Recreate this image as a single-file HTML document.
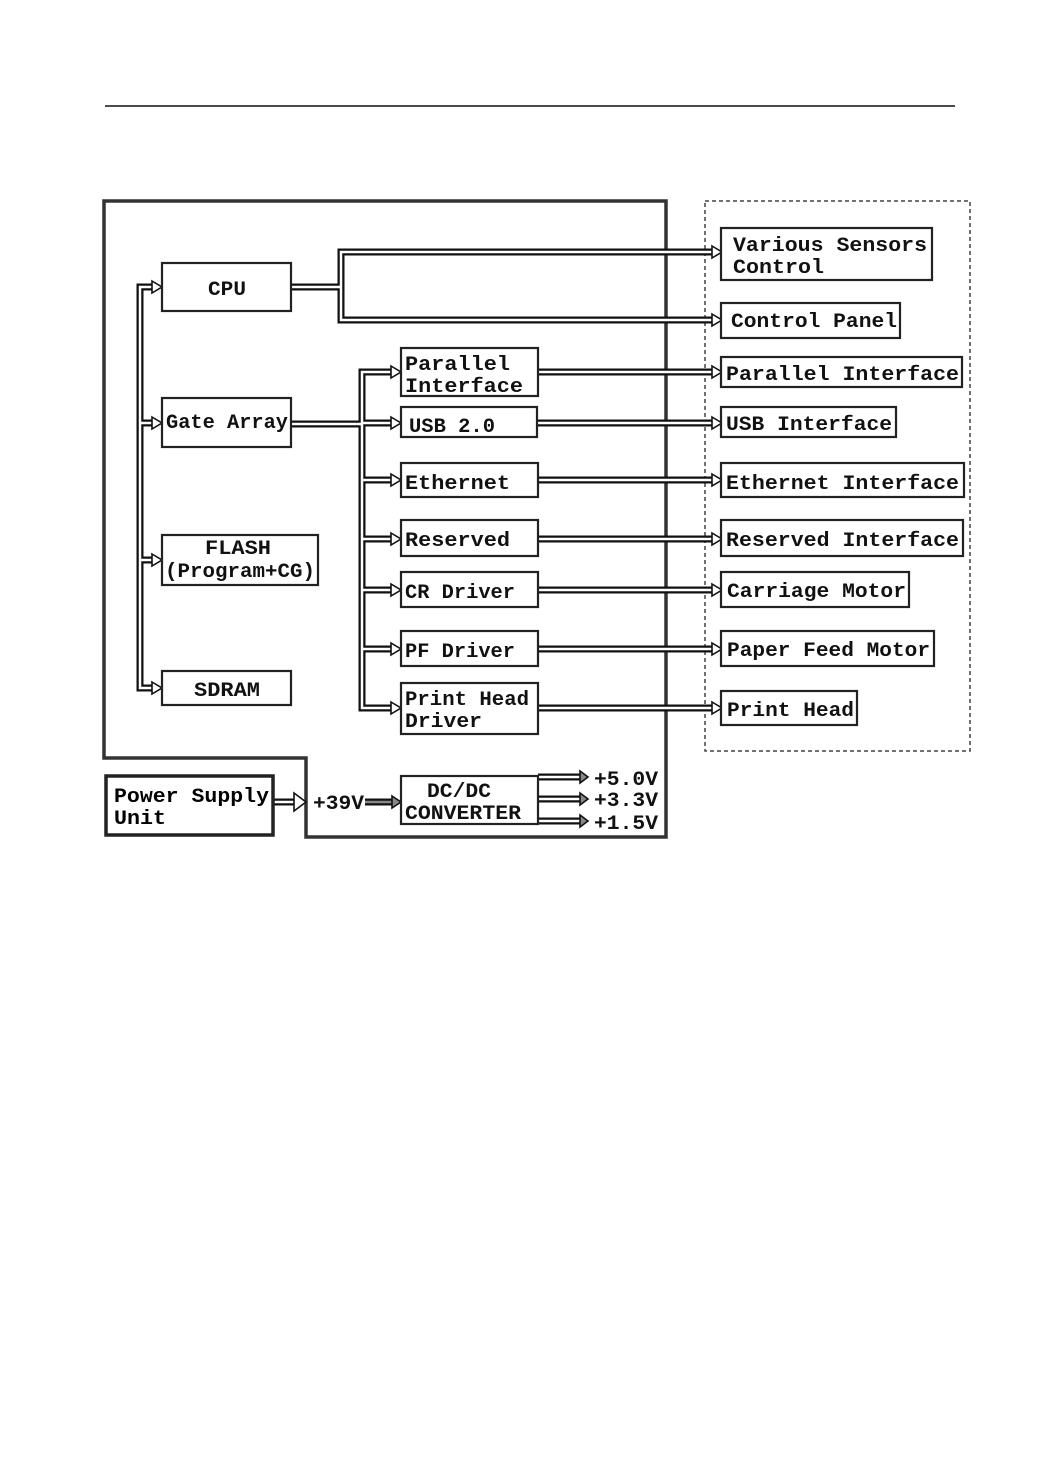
<!DOCTYPE html>
<html><head><meta charset="utf-8"><style>
html,body{margin:0;padding:0;background:#fff;}
svg{display:block;}
text{font-family:"Liberation Mono",monospace;font-size:20px;fill:#111;font-weight:bold;}
</style></head><body>
<svg width="1042" height="1472" viewBox="0 0 1042 1472" xmlns="http://www.w3.org/2000/svg">
<line x1="105" y1="106" x2="955" y2="106" stroke="#111" stroke-width="1.5"/>
<!-- main outline -->
<path d="M104,201 H666 V837 H306 V758 H104 Z" fill="none" stroke="#333" stroke-width="3.5"/>
<rect x="705" y="201" width="265" height="550" fill="none" stroke="#444" stroke-width="1.5" stroke-dasharray="4,3"/>
<!-- double lines -->
<g fill="none" stroke-linejoin="miter">
<g id="conn" stroke="#111" stroke-width="7">
<path d="M152,287 H140 V688 H152 M140,423 H152 M140,560 H152"/>
<path d="M291,287 H341 V252 H712 M341,287 V320 H712"/>
<path d="M291,424 H362 M391,372 H362 V708 H391 M362,423 H391 M362,480 H391 M362,539 H391 M362,590 H391 M362,649 H391"/>
<path d="M538,372 H712 M538,423 H712 M538,480 H712 M538,539 H712 M538,590 H712 M538,649 H712 M538,708 H712"/>
<path d="M273,802 H296 M365,802 H392 M538,777 H580 M538,799 H580 M538,821 H580"/>
</g>
<g stroke="#fff" stroke-width="2.5">
<path d="M152,287 H140 V688 H152 M140,423 H152 M140,560 H152"/>
<path d="M291,287 H341 V252 H712 M341,287 V320 H712"/>
<path d="M291,424 H362 M391,372 H362 V708 H391 M362,423 H391 M362,480 H391 M362,539 H391 M362,590 H391 M362,649 H391"/>
<path d="M538,372 H712 M538,423 H712 M538,480 H712 M538,539 H712 M538,590 H712 M538,649 H712 M538,708 H712"/>
<path d="M273,802 H296 M538,777 H580 M538,799 H580 M538,821 H580"/>
</g>
<path d="M365,802 H392" stroke="#888" stroke-width="2.5"/>
</g>
<!-- arrowheads -->
<g fill="#fff" stroke="#111" stroke-width="1.6">
<polygon points="152,281 162,287 152,293"/><polygon points="152,417 162,423 152,429"/><polygon points="152,554 162,560 152,566"/><polygon points="152,682 162,688 152,694"/>
<polygon points="391,366 401,372 391,378"/><polygon points="391,417 401,423 391,429"/><polygon points="391,474 401,480 391,486"/><polygon points="391,533 401,539 391,545"/><polygon points="391,584 401,590 391,596"/><polygon points="391,643 401,649 391,655"/><polygon points="391,702 401,708 391,714"/>
<polygon points="712,246 722,252 712,258"/><polygon points="712,314 722,320 712,326"/>
<polygon points="712,366 722,372 712,378"/><polygon points="712,417 722,423 712,429"/><polygon points="712,474 722,480 712,486"/><polygon points="712,533 722,539 712,545"/><polygon points="712,584 722,590 712,596"/><polygon points="712,643 722,649 712,655"/><polygon points="712,702 722,708 712,714"/>
<polygon points="294,793 306,802 294,811"/><polygon points="392,796 401,802 392,808" fill="#888"/>
<polygon points="580,771 588,777 580,783" fill="#888"/><polygon points="580,793 588,799 580,805" fill="#888"/><polygon points="580,815 588,821 580,827" fill="#888"/>
</g>
<!-- boxes -->
<g fill="#fff" stroke="#222" stroke-width="2.2">
<rect x="162" y="263" width="129" height="48"/>
<rect x="162" y="398" width="129" height="49"/>
<rect x="162" y="535" width="156" height="50"/>
<rect x="162" y="671" width="129" height="34"/>
<rect x="401" y="348" width="137" height="48"/>
<rect x="401" y="407" width="136" height="30"/>
<rect x="401" y="463" width="137" height="34"/>
<rect x="401" y="520" width="137" height="36"/>
<rect x="401" y="572" width="137" height="35"/>
<rect x="401" y="631" width="137" height="35"/>
<rect x="401" y="683" width="137" height="51"/>
<rect x="401" y="776" width="137" height="48"/>
<rect x="721" y="228" width="211" height="52"/>
<rect x="721" y="303" width="179" height="35"/>
<rect x="721" y="357" width="241" height="30"/>
<rect x="721" y="407" width="175" height="30"/>
<rect x="721" y="463" width="243" height="34"/>
<rect x="721" y="520" width="242" height="36"/>
<rect x="721" y="572" width="188" height="35"/>
<rect x="721" y="631" width="213" height="35"/>
<rect x="721" y="691" width="136" height="34"/>
<rect x="106" y="776" width="167" height="59" stroke-width="3.5"/>
</g>
<!-- labels -->
<text x="208" y="295" textLength="38" lengthAdjust="spacingAndGlyphs">CPU</text>
<text x="166" y="428" textLength="122" lengthAdjust="spacingAndGlyphs">Gate Array</text>
<text x="205" y="554" textLength="66" lengthAdjust="spacingAndGlyphs">FLASH</text>
<text x="165" y="577" textLength="150" lengthAdjust="spacingAndGlyphs">(Program+CG)</text>
<text x="194" y="696" textLength="66" lengthAdjust="spacingAndGlyphs">SDRAM</text>
<text x="405" y="370" textLength="105" lengthAdjust="spacingAndGlyphs">Parallel</text>
<text x="405" y="392" textLength="118" lengthAdjust="spacingAndGlyphs">Interface</text>
<text x="409" y="432" textLength="86" lengthAdjust="spacingAndGlyphs">USB 2.0</text>
<text x="405" y="489" textLength="105" lengthAdjust="spacingAndGlyphs">Ethernet</text>
<text x="405" y="546" textLength="105" lengthAdjust="spacingAndGlyphs">Reserved</text>
<text x="405" y="598" textLength="110" lengthAdjust="spacingAndGlyphs">CR Driver</text>
<text x="405" y="657" textLength="110" lengthAdjust="spacingAndGlyphs">PF Driver</text>
<text x="405" y="705" textLength="124" lengthAdjust="spacingAndGlyphs">Print Head</text>
<text x="405" y="727" textLength="77" lengthAdjust="spacingAndGlyphs">Driver</text>
<text x="427" y="797" textLength="64" lengthAdjust="spacingAndGlyphs">DC/DC</text>
<text x="405" y="819" textLength="116" lengthAdjust="spacingAndGlyphs">CONVERTER</text>
<text x="733" y="251" textLength="194" lengthAdjust="spacingAndGlyphs">Various Sensors</text>
<text x="733" y="273" textLength="91" lengthAdjust="spacingAndGlyphs">Control</text>
<text x="731" y="327" textLength="166" lengthAdjust="spacingAndGlyphs">Control Panel</text>
<text x="726" y="380" textLength="233" lengthAdjust="spacingAndGlyphs">Parallel Interface</text>
<text x="726" y="430" textLength="166" lengthAdjust="spacingAndGlyphs">USB Interface</text>
<text x="726" y="489" textLength="233" lengthAdjust="spacingAndGlyphs">Ethernet Interface</text>
<text x="726" y="546" textLength="233" lengthAdjust="spacingAndGlyphs">Reserved Interface</text>
<text x="727" y="597" textLength="179" lengthAdjust="spacingAndGlyphs">Carriage Motor</text>
<text x="727" y="656" textLength="203" lengthAdjust="spacingAndGlyphs">Paper Feed Motor</text>
<text x="727" y="716" textLength="127" lengthAdjust="spacingAndGlyphs">Print Head</text>
<text x="114" y="802" textLength="155" lengthAdjust="spacingAndGlyphs" style="font-weight:bold;fill:#000">Power Supply</text>
<text x="114" y="824" textLength="52" lengthAdjust="spacingAndGlyphs" style="fill:#000">Unit</text>
<text x="313" y="809" textLength="51" lengthAdjust="spacingAndGlyphs">+39V</text>
<text x="594" y="785" textLength="64" lengthAdjust="spacingAndGlyphs">+5.0V</text>
<text x="594" y="806" textLength="64" lengthAdjust="spacingAndGlyphs">+3.3V</text>
<text x="594" y="829" textLength="64" lengthAdjust="spacingAndGlyphs">+1.5V</text>
</svg>
</body></html>
